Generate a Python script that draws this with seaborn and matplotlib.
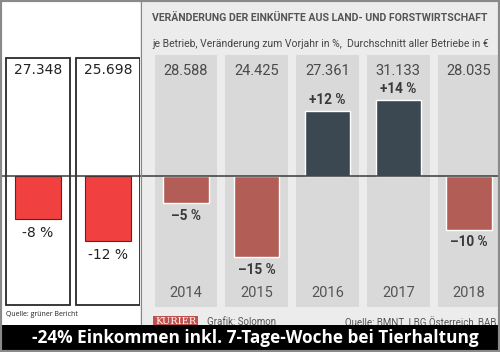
import matplotlib
matplotlib.use("Agg")
import matplotlib.pyplot as plt
import seaborn as sns
from matplotlib.patches import Rectangle
from matplotlib.lines import Line2D

# data
years = ["2014", "2015", "2016", "2017", "2018"]
change_pct = [-5, -15, 12, 14, -10]
income_eur = ["28.588", "24.425", "27.361", "31.133", "28.035"]

hand_income = ["27.348", "25.698"]
hand_change_pct = [-8, -12]

title = "VERÄNDERUNG DER EINKÜNFTE AUS LAND- UND FORSTWIRTSCHAFT"
subtitle = "je Betrieb, Veränderung zum Vorjahr in %,  Durchschnitt aller Betriebe in €"
banner = "-24% Einkommen inkl. 7-Tage-Woche bei Tierhaltung"

sns.set_style("white")
plt.rcParams['font.family'] = ['Roboto', 'DejaVu Sans']

W, H = 500, 352
fig = plt.figure(figsize=(5, 3.52), dpi=100)
fig.patch.set_facecolor("white")

def fx(px):
    return px / W

def fy(py):
    return 1 - py / H

# pixel layout of the plotting band (same y scale for both parts)
top_px, bot_px, zero_px, px_per_pct = 55, 325, 176, 5.4
ymax = (zero_px - top_px) / px_per_pct
ymin = -(bot_px - zero_px) / px_per_pct

# newspaper background
fig.patches.append(Rectangle((fx(140), fy(325)), fx(360), 325 / H, transform=fig.transFigure,
                             facecolor="#ececec", edgecolor="none", zorder=-5))

# ---- left, hand-drawn part ----
axl = fig.add_axes([fx(0), fy(bot_px), fx(140), (bot_px - top_px) / H])
axl.set_facecolor("none")
box_top = (zero_px - 58) / px_per_pct
box_bot = -(305 - zero_px) / px_per_pct
axl.bar(range(len(hand_income)), box_top - box_bot, bottom=box_bot, width=0.91,
        fill=False, edgecolor="#2a2a2a", linewidth=1.3, zorder=1)
sns.barplot(x=hand_income, y=hand_change_pct, color="#f04040", saturation=1, width=0.67,
            edgecolor="#6b2020", linewidth=0.8, ax=axl, zorder=2)
for i, (inc, v) in enumerate(zip(hand_income, hand_change_pct)):
    axl.text(i, (zero_px - 70) / px_per_pct, inc, ha="center", va="center",
             fontsize=10, color="#222", family="DejaVu Sans")
    axl.annotate(f"-{abs(v)} %", (i, v), xytext=(0, -10), textcoords="offset points",
                 ha="center", va="center", fontsize=10, color="#222", family="DejaVu Sans")
axl.set_xlim(-38 / 70, 102 / 70)
axl.set_ylim(ymin, ymax)
axl.axis("off")

# ---- right, newspaper part ----
axr = fig.add_axes([fx(140), fy(bot_px), fx(360), (bot_px - top_px) / H])
axr.set_facecolor("none")
colors = ["#3b4851" if v > 0 else "#b25d56" for v in change_pct]
for i in range(len(years)):
    axr.axvspan(i - 0.445, i + 0.445, ymin=(bot_px - 307) / (bot_px - top_px), ymax=1,
                color="#d9d9d9", zorder=0, lw=0)
sns.barplot(x=years, y=change_pct, hue=years, palette=colors, saturation=1, width=0.64,
            legend=False, ax=axr, zorder=2)
for i, (inc, v) in enumerate(zip(income_eur, change_pct)):
    axr.text(i, (zero_px - 71) / px_per_pct, inc, ha="center", va="center",
             fontsize=10.5, color="#4a4a4a")
    axr.text(i, -(293 - zero_px) / px_per_pct, years[i], ha="center", va="center",
             fontsize=10.5, color="#555")
    lab = f"+{v} %" if v > 0 else f"–{abs(v)} %"
    off = 8 if v > 0 else -9
    axr.annotate(lab, (i, v), xytext=(0, off), textcoords="offset points",
                 ha="center", va="center", fontsize=9.8, fontweight="bold", color="#3a3a3a")
axr.set_xlim(-46 / 70.75, 314 / 70.75)
axr.set_ylim(ymin, ymax)
axr.axis("off")

# zero line across the whole picture and the divider
fig.lines.append(Line2D([fx(2), fx(498)], [fy(zero_px), fy(zero_px)], transform=fig.transFigure,
                        color="#3a3a3a", lw=1.1, zorder=5))
fig.lines.append(Line2D([fx(141), fx(141)], [fy(0), fy(325)], transform=fig.transFigure,
                        color="#888", lw=0.8, zorder=5))

# header texts
fig.text(fx(152), fy(18), title, fontsize=7.6, fontweight="bold", color="#555",
         ha="left", va="center")
fig.text(fx(152), fy(44), subtitle, fontsize=7.5, color="#444", ha="left", va="center")

# footer texts (partly under the banner)
fig.text(fx(6), fy(314), "Quelle: grüner Bericht", fontsize=5, color="#222",
         ha="left", va="center", family="Open Sans")
fig.text(fx(155), fy(322), "KURIER", fontsize=7, color="white", ha="left", va="center",
         family="DejaVu Serif",
         bbox=dict(boxstyle="square,pad=0.2", facecolor="#c0504d", edgecolor="none"))
fig.text(fx(207), fy(322), "Grafik: Solomon", fontsize=7, color="#555", ha="left", va="center")
fig.text(fx(496), fy(322), "Quelle: BMNT, LBG Österreich, BAB", fontsize=7, color="#555",
         ha="right", va="center")

# black banner
fig.patches.append(Rectangle((0, fy(350)), 1, 25 / H, transform=fig.transFigure,
                             facecolor="black", edgecolor="none", zorder=10))
fig.text(fx(255), fy(338), banner, fontsize=12.4, fontweight="bold", color="white",
         ha="center", va="center", family="Open Sans", zorder=11)

# scan frame
fig.patches.append(Rectangle((0, 0), 1, 1, transform=fig.transFigure, fill=False,
                             edgecolor="#8a8a8a", linewidth=3, zorder=12))

fig.savefig("out.png", dpi=100)
